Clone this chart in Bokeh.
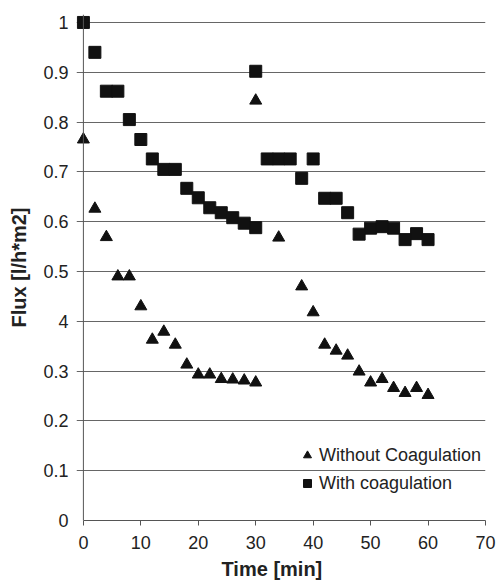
from bokeh.plotting import figure
from bokeh.models import FixedTicker, Legend, LegendItem, Range1d, Span, Title
from bokeh.embed import file_html
from bokeh.resources import INLINE

# Data
time_without = [0, 2, 4, 6, 8, 10, 12, 14, 16, 18, 20, 22, 24, 26, 28, 30,
                30, 34, 38, 40, 42, 44, 46, 48, 50, 52, 54, 56, 58, 60]
flux_without = [0.765, 0.626, 0.569, 0.490, 0.490, 0.430, 0.363, 0.379, 0.353, 0.313,
                0.293, 0.293, 0.284, 0.283, 0.281, 0.277,
                0.843, 0.568, 0.470, 0.418, 0.353, 0.341, 0.331, 0.299, 0.277, 0.284,
                0.266, 0.256, 0.266, 0.252]

time_with = [0, 2, 4, 6, 8, 10, 12, 14, 16, 18, 20, 22, 24, 26, 28, 30,
             30, 32, 34, 36, 38, 40, 42, 44, 46, 48, 50, 52, 54, 56, 58, 60]
flux_with = [1.0, 0.940, 0.862, 0.862, 0.805, 0.765, 0.726, 0.705, 0.705, 0.667,
             0.648, 0.628, 0.618, 0.608, 0.597, 0.588,
             0.902, 0.726, 0.726, 0.726, 0.687, 0.726, 0.647, 0.647, 0.618, 0.575,
             0.587, 0.590, 0.587, 0.564, 0.576, 0.564]

y_ticks = [0, 0.1, 0.2, 0.3, 0.4, 0.5, 0.6, 0.7, 0.8, 0.9, 1]
y_tick_labels = ["0", "0.1", "0.2", "0.3", "4", "0.5", "0.6", "0.7", "0.8", "0.9", "1"]
x_ticks = [0, 10, 20, 30, 40, 50, 60, 70]

FONT = "Liberation Sans"
INK = "#222222"
AXIS = "#555555"

p = figure(width=496, height=583, output_backend="svg", toolbar_location=None,
           x_range=Range1d(-1.2, 70), y_range=Range1d(0, 1.016),
           min_border_left=76, min_border_right=11, min_border_top=14, min_border_bottom=63)
p.outline_line_color = None
p.background_fill_color = "white"

p.xgrid.grid_line_color = None
p.ygrid.grid_line_color = "#666666"
p.ygrid.grid_line_width = 1

# y axis line at x = 0
p.add_layout(Span(location=0, dimension="height", line_color=AXIS, line_width=1))

r_without = p.scatter(time_without, flux_without, marker="triangle", size=12,
                      fill_color="#111111", line_color="#111111")
r_with = p.scatter(time_with, flux_with, marker="square", size=12,
                   fill_color="#111111", line_color="#111111")

# axes
p.xaxis.ticker = FixedTicker(ticks=x_ticks)
p.yaxis.ticker = FixedTicker(ticks=y_ticks)
p.yaxis.major_label_overrides = {t: l for t, l in zip(y_ticks, y_tick_labels)}
p.xaxis.bounds = (0, 70)
for ax in (p.xaxis, p.yaxis):
    ax.axis_line_color = AXIS
    ax.major_tick_line_color = AXIS
    ax.major_tick_out = 5
    ax.major_tick_in = 0
    ax.minor_tick_line_color = None
    ax.major_label_text_font = FONT
    ax.major_label_text_font_size = "18px"
    ax.major_label_text_color = INK
    ax.axis_label_text_font = FONT
    ax.axis_label_text_font_style = "bold"
    ax.axis_label_text_font_size = "20px"
    ax.axis_label_text_color = INK
p.yaxis.axis_line_color = None
p.yaxis.major_tick_line_color = None
p.yaxis.major_tick_out = 0
p.yaxis.major_label_standoff = 8
p.yaxis.axis_label = "Flux [l/h*m2]"
p.yaxis.axis_label_standoff = 10
p.xaxis.major_label_standoff = 10

xtitle = Title(text="Time [min]", align="left", offset=145, standoff=8,
               text_font=FONT, text_font_style="bold", text_font_size="20px",
               text_color=INK)
p.add_layout(xtitle, "below")

legend = Legend(items=[LegendItem(label="Without Coagulation", renderers=[r_without]),
                       LegendItem(label="With coagulation", renderers=[r_with])],
                location=(221, 26), padding=0, spacing=6, glyph_width=20, glyph_height=22,
                label_height=22, label_standoff=2, border_line_color=None,
                background_fill_alpha=0, label_text_font=FONT,
                label_text_font_size="18px", label_text_color=INK)
p.add_layout(legend, "center")

open("out.html", "w").write(file_html(p, INLINE))
